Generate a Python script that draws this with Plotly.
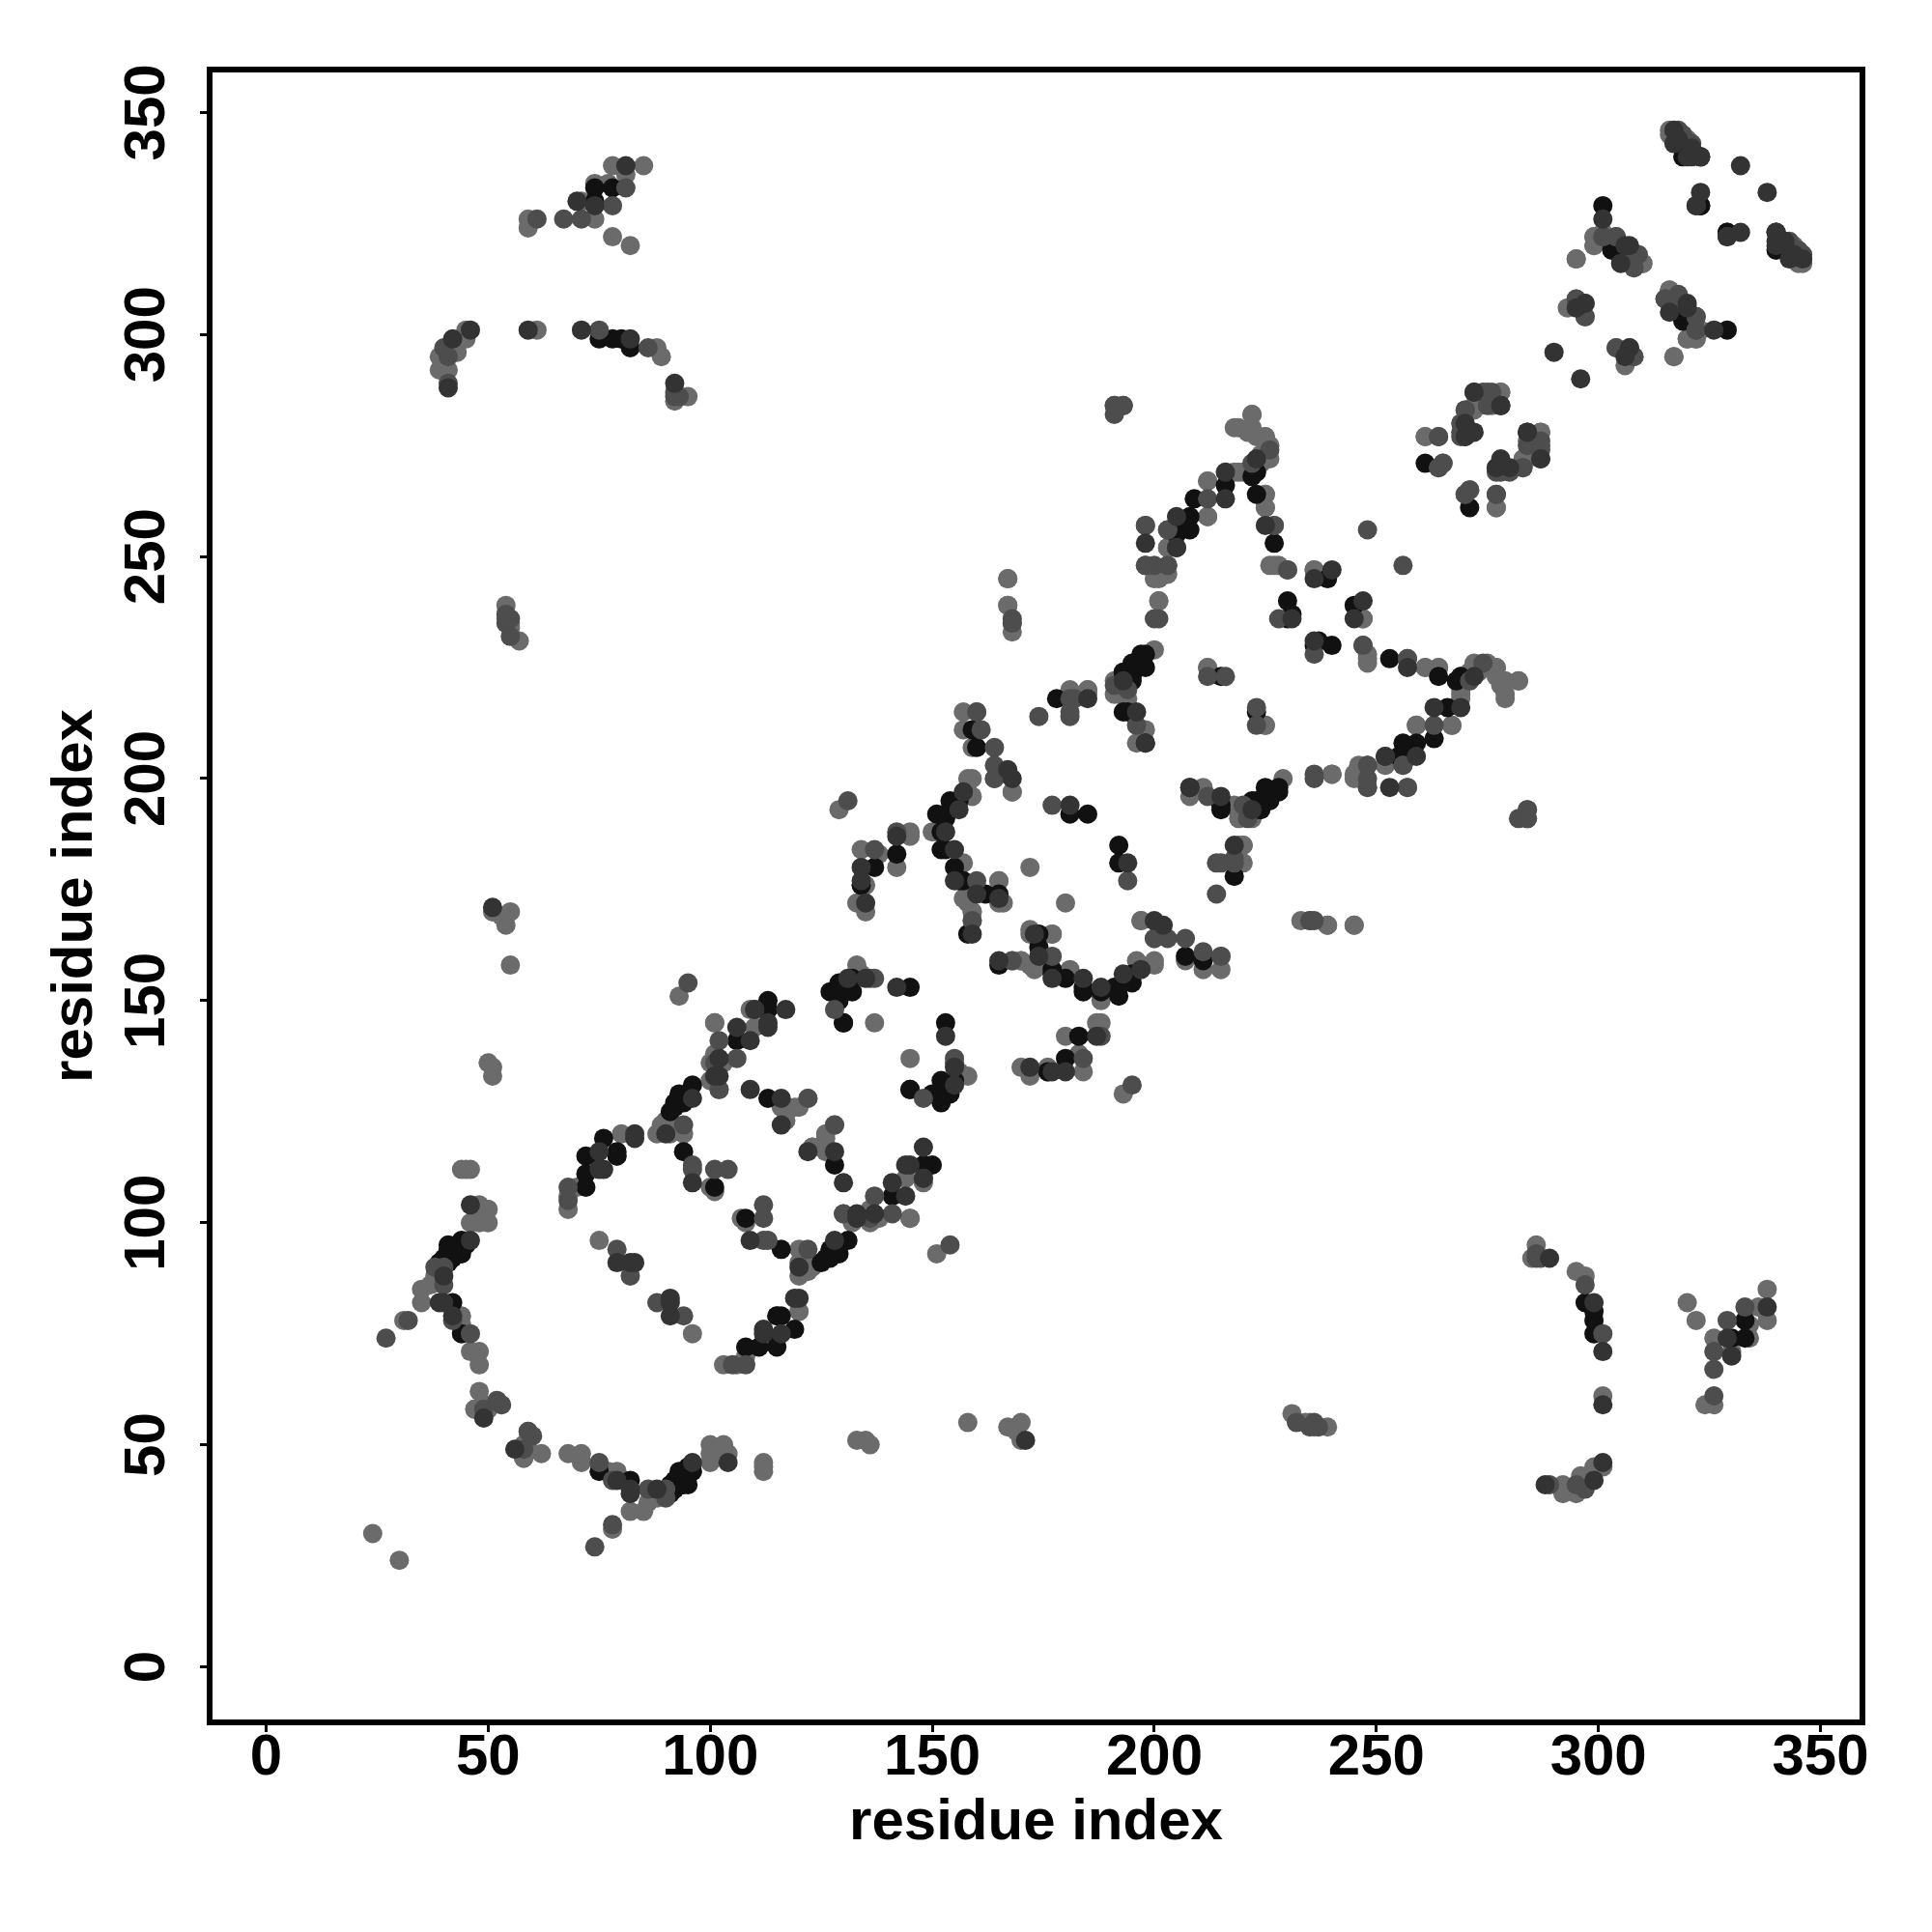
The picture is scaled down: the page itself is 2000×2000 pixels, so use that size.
import plotly.graph_objects as go

# residue-residue contacts (a < b); the map is symmetric, each contact is drawn at (a,b) and (b,a)
contacts_black = [(39,91),(40,92),(41,93),(41,95),(42,92),(42,94),(43,93),(43,95),(44,94),(44,96),(45,95),(42,82),(44,75),(41,91),(41,94),(44,93),
(72,108),(72,111),(72,115),(76,119),(79,116),(74,115),(79,115),(94,116),(101,108),(106,141),(113,150),(113,148),(92,127),(93,129),(94,127),(91,125),(96,131),(95,128),(92,126),
(127,152),(129,154),(129,150),(130,145),(113,128),(130,145),(129,153),(132,155),(132,152),(145,153),(142,183),(137,180),(152,188),(151,192),(154,195),(152,184),(157,177),(162,174),(158,165),(165,174),(156,177),(155,180),(134,176),(153,184),
(181,192),(185,192),(153,191),(154,193),(156,195),(160,207),(209,263),(208,259),(205,256),(208,256),(216,266),(222,268),(223,264),(227,253),(239,245),(230,240),(231,237),(230,236),(223,269),(205,255),
(197,228),(198,225),(195,226),(193,224),(195,223),(193,215),(198,208),(178,218),(215,223),(198,228),(223,193),(222,195),(194,215),(159,211),(278,284),(261,271),(301,329),(303,319),(329,323),(319,340),(306,317),(304,319),(323,329),
(78,333),(74,333),(74,330),(75,299),(78,299),(80,299),(82,297)]

contacts_dark = [(46,96),(40,88),(39,82),(42,79),(49,56),(40,82),(46,104),(79,91),(82,91),(83,91),(83,119),(76,112),(75,116),(75,112),(83,120),
(181,194),(155,184),(155,177),(160,174),(165,173),(159,165),(134,180),(142,187),(134,177),(135,172),(157,197),(156,193),(131,155),(117,148),(110,148),(113,145),(106,144),(109,141),(101,133),(96,128),(90,120),(96,109),
(109,130),(116,128),(116,122),(113,144),(102,137),(102,133),(142,153),(135,155),(168,200),(167,202),(153,188),
(216,269),(216,263),(205,259),(205,252),(198,253),(225,257),(236,245),(240,247),(231,236),(223,272),(196,215),(198,208),(193,222),(185,218),
(332,338),(323,332),(301,326),(306,320),(305,316),(317,343),(321,340),(323,340),(329,322),(340,323),(340,320),(342,321),(344,318),(346,317),(320,307),(297,307),(290,296),(295,306),(270,277),(272,278),(278,284),(272,287),(270,280),
(81,338),(70,330),(74,329),(46,301),(42,299),(41,288),(59,301),(71,301),(82,299),(92,289),(51,171)]

contacts_mid = [(27,74),(32,78),(46,75),(53,59),(52,60),(49,58),(42,78),(40,86),(38,90),(40,90),(79,94),(82,88),(68,108),(68,105),
(131,195),(137,184),(160,177),(136,155),(137,155),(177,194),(167,201),(164,203),(164,200),(159,168),(142,188),(128,148),(95,154),(102,141),(102,130),(94,122),(96,113),(101,112),(104,112),(122,128),(110,148),(106,137),(101,136),(96,112),
(191,284),(193,284),(226,274),(222,271),(212,263),(203,256),(198,257),(227,257),(200,248),(203,248),(230,247),(248,256),(168,236),(200,236),(228,236),(257,227),(252,205),(256,203),(236,201),(248,198),(257,198),(181,214),(181,218),(174,214),(212,223),(216,223),(194,220),(196,212),(182,218),(181,215),(161,211),(164,207),(160,215),(235,168),(284,193),(282,191),(284,191),(191,221),
(319,345),(321,343),(323,340),(322,329),(301,322),(304,322),(308,318),(308,315),(322,304),(322,301),(315,308),(318,309),(295,308),(297,304),(304,297),(307,297),(308,295),(272,287),(274,287),(276,287),(270,283),(269,280),(270,277),(264,277),(264,270),(265,271),(284,275),(287,275),(283,270),(277,269),(278,269),(270,264),(277,264),(346,318),
(67,326),(71,326),(61,326),(81,333),(78,329),(75,301),(86,297),(92,286),(93,286),(40,297),(41,295),(41,289),(92,287),(54,235),(55,236),(54,237),(55,232)]

contacts_light = [(24,30),(35,82),(35,85),(37,86),(31,78),(38,88),(44,79),(44,77),(46,71),(48,71),(48,68),(48,62),(47,58),(49,59),(58,47),(58,50),(59,53),
(44,112),(46,112),(48,104),(50,103),(46,100),(48,100),(50,100),(49,102),(75,96),(68,103),(68,106),(80,120),(88,120),(90,122),(70,108),
(129,193),(134,184),(138,183),(142,180),(145,187),(134,176),(133,172),(135,170),(150,188),(158,197),(158,200),(157,181),(157,173),(159,170),(165,177),(166,172),(172,180),(197,168),(172,165),(177,165),(168,159),(170,159),(172,158),(174,158),(159,196),(159,200),(151,188),(145,188),(135,176),(137,145),(133,158),(134,156),
(93,151),(101,145),(101,138),(103,136),(100,132),(100,136),(90,123),(94,120),(101,107),(116,126),(119,126),(122,128),(117,123),(126,120),(123,117),(109,148),(110,144),(101,145),(102,130),(91,120),(91,123),(89,122),(100,108),(79,115),
(219,279),(222,282),(221,278),(223,277),(225,277),(224,273),(223,269),(219,269),(212,267),(212,259),(225,264),(225,261),(203,252),(198,248),(200,245),(203,246),(227,248),(236,247),(167,245),(167,239),(168,235),(201,240),(247,236),(247,230),(248,228),(248,226),(261,225),(264,225),(224,271),(226,272),(226,275),(225,277),(222,279),(222,282),(218,279),(220,269),(218,269),(212,267),(212,259),(203,252),(203,248),(201,245),(201,240),(200,229),(192,219),(194,218),(198,211),(196,208),(185,219),(185,220),(181,220),(185,220),(168,233),(167,239),(167,245),(157,211),(157,215),(212,225),(212,225),(191,222),(191,219),(164,200),(168,197),(159,207),(160,215),
(316,345),(319,344),(301,323),(299,322),(299,320),(295,317),(310,316),(344,320),(346,316),(316,310),(299,320),(299,322),(295,317),(293,306),(278,287),(272,284),(276,284),(261,277),(287,278),(273,284),(272,283),(265,271),(261,277),
(78,338),(85,338),(81,336),(74,334),(77,334),(71,330),(74,326),(59,326),(59,324),(78,322),(82,320),(45,301),(45,299),(43,296),(39,295),(39,292),(41,292),(61,301),(88,297),(89,295),(92,285),(95,286),
(54,239),(54,236),(57,231),(55,234),(55,235),(51,170),(55,170),(54,167),(53,169),(55,158),(50,136),(51,133),(51,135),(45,112)]

shades = [("#111111", contacts_black), ("#333333", contacts_dark), ("#4d4d4d", contacts_mid), ("#6b6b6b", contacts_light)]
tick_values = [0, 50, 100, 150, 200, 250, 300, 350]
axis_label = "residue index"

fig = go.Figure()
for color, contacts in [shades[3], shades[0], shades[2], shades[1]]:
    xs = [a for a, b in contacts] + [b for a, b in contacts]
    ys = [b for a, b in contacts] + [a for a, b in contacts]
    fig.add_trace(go.Scatter(x=xs, y=ys, mode="markers", showlegend=False,
                             marker=dict(size=20, color=color, line=dict(width=0))))

font = dict(family="Liberation Sans", size=60, color="black", weight=700)
common = dict(tickmode="array", tickvals=tick_values, showgrid=False, zeroline=False,
              showline=True, mirror=True, linewidth=6, linecolor="black",
              ticks="outside", ticklen=7, tickwidth=3, tickcolor="black", tickfont=font)
fig.update_xaxes(range=[-12.07, 358.8], ticklabelstandoff=-28, title=dict(text=axis_label, font=font, standoff=15), **common)
fig.update_yaxes(range=[-11.86, 359.0], tickangle=-90, ticklabelstandoff=13, ticklabelshift=9, title=dict(text=axis_label, font=font, standoff=3), **common)
fig.update_layout(width=1992, height=1992, margin=dict(l=212, r=75, t=67, b=220, autoexpand=False),
                  plot_bgcolor="white", paper_bgcolor="white")
fig.write_html("out.html")
